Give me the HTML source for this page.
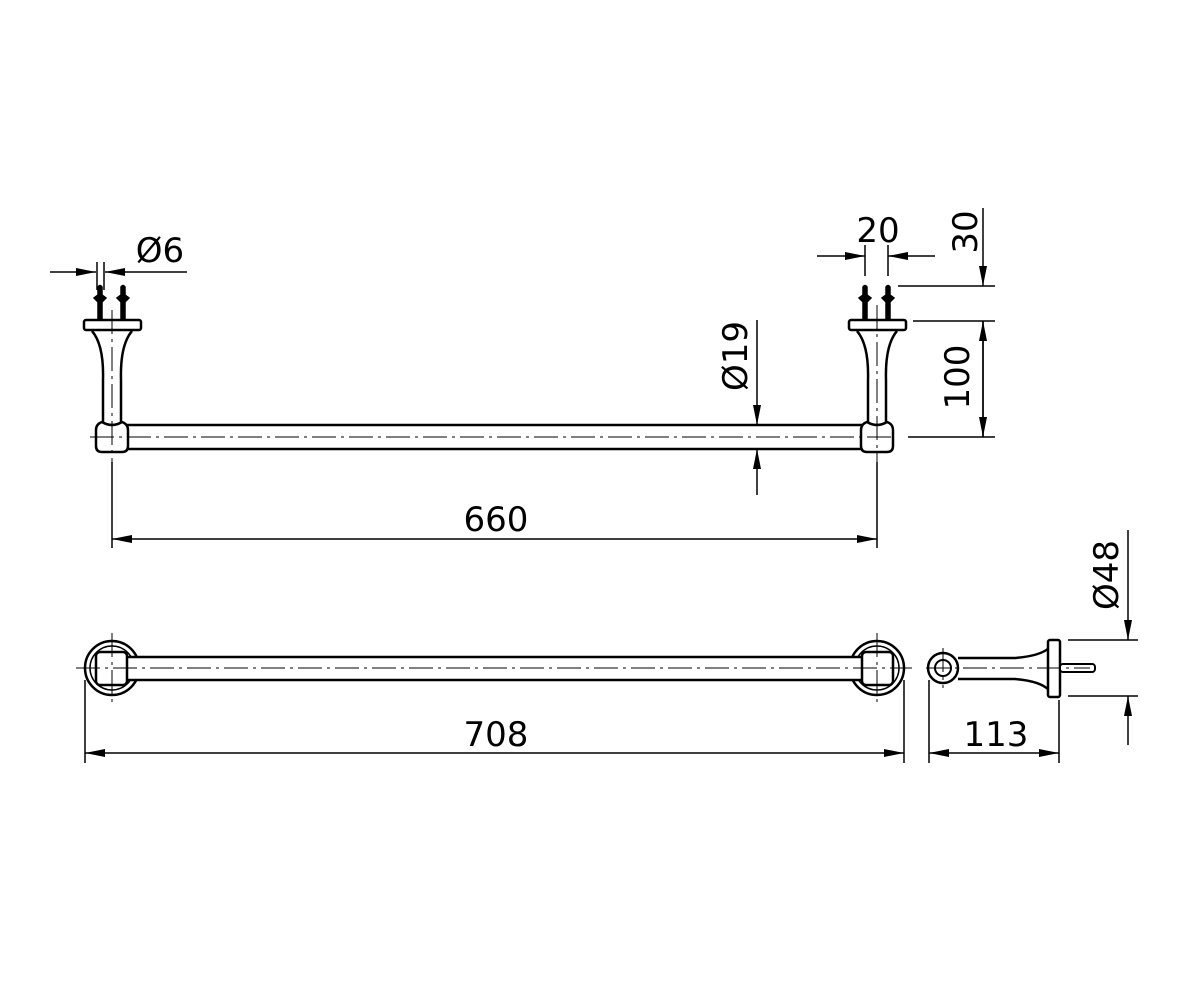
<!DOCTYPE html>
<html><head><style>body{margin:0;background:#fff}svg{display:block}</style></head><body>
<svg width="1200" height="996" viewBox="0 0 1200 996" xmlns="http://www.w3.org/2000/svg" font-family="'DejaVu Sans','Liberation Sans',sans-serif">
<defs>
<marker id="a" viewBox="0 0 20 8" refX="20" refY="4" markerWidth="20" markerHeight="8" markerUnits="userSpaceOnUse" orient="auto-start-reverse"><path d="M0,0 L20,4 L0,8z" fill="#000"/></marker>
</defs>
<g stroke="#000" fill="none" stroke-width="1.5">
<line x1="50" y1="272" x2="96" y2="272" marker-end="url(#a)"/>
<line x1="187" y1="272" x2="105" y2="272" marker-end="url(#a)"/>
<line x1="97" y1="262" x2="97" y2="290"/><line x1="104" y1="262" x2="104" y2="290"/>
<line x1="817" y1="256" x2="865" y2="256" marker-end="url(#a)"/>
<line x1="935" y1="256" x2="888" y2="256" marker-end="url(#a)"/>
<line x1="865" y1="245" x2="865" y2="276"/><line x1="888" y1="245" x2="888" y2="276"/>
<line x1="983" y1="208" x2="983" y2="286" marker-end="url(#a)"/>
<line x1="983" y1="437" x2="983" y2="321" marker-end="url(#a)"/>
<line x1="983" y1="321" x2="983" y2="437" marker-end="url(#a)"/>
<line x1="898" y1="286" x2="995" y2="286"/><line x1="913" y1="321" x2="995" y2="321"/><line x1="908" y1="437" x2="995" y2="437"/>
<line x1="757" y1="320" x2="757" y2="425" marker-end="url(#a)"/>
<line x1="757" y1="495" x2="757" y2="449" marker-end="url(#a)"/>
<line x1="112" y1="462" x2="112" y2="548"/><line x1="877" y1="462" x2="877" y2="548"/>
<line x1="112" y1="539" x2="877" y2="539" marker-start="url(#a)" marker-end="url(#a)"/>
<line x1="85" y1="680" x2="85" y2="763"/><line x1="904" y1="680" x2="904" y2="763"/>
<line x1="85" y1="753" x2="904" y2="753" marker-start="url(#a)" marker-end="url(#a)"/>
<line x1="929" y1="680" x2="929" y2="763"/><line x1="1059" y1="700" x2="1059" y2="763"/>
<line x1="929" y1="753" x2="1059" y2="753" marker-start="url(#a)" marker-end="url(#a)"/>
<line x1="1128" y1="530" x2="1128" y2="640" marker-end="url(#a)"/>
<line x1="1128" y1="745" x2="1128" y2="696" marker-end="url(#a)"/>
<line x1="1068" y1="640" x2="1138" y2="640"/><line x1="1068" y1="696" x2="1138" y2="696"/>
</g>
<g stroke="#000" stroke-width="2.5" fill="#fff">
<rect x="120" y="425" width="745" height="24"/>
<g id="post">
<path d="M92,331 Q104,345 103,380 L103,425 L121,425 L121,380 Q120,345 132,331"/>
<rect x="84" y="320" width="57" height="10" rx="2"/>
<path d="M102,422 Q112,428 122,422 Q128,424 128,430 L128,446 Q128,452 122,452 L102,452 Q96,452 96,446 L96,430 Q96,424 102,422z"/>
<path d="M98,320 v-18 l-4,-4 4,-3 v-8 q2,-3 4,0 v8 l4,3 -4,4 v18" fill="#000" stroke-width="1.5"/>
<path d="M121,320 v-18 l-4,-4 4,-3 v-8 q2,-3 4,0 v8 l4,3 -4,4 v18" fill="#000" stroke-width="1.5"/>
</g>
<use href="#post" transform="translate(765,0)"/>
<circle cx="112" cy="668" r="27"/><circle cx="112" cy="668" r="22" stroke-width="1.5"/>
<circle cx="877" cy="668" r="27"/><circle cx="877" cy="668" r="22" stroke-width="1.5"/>
<rect x="125" y="657" width="738" height="23"/>
<rect x="96" y="652" width="31" height="33" rx="4"/>
<rect x="862" y="652" width="31" height="33" rx="4"/>
<path d="M958,658 L1015,658 Q1040,656 1049,648 L1049,690 Q1040,681 1015,679 L958,679"/>
<rect x="1048" y="640" width="12" height="57" rx="2"/>
<rect x="1060" y="664" width="35" height="8" rx="3" stroke-width="2"/>
<circle cx="943" cy="668" r="15"/><circle cx="943" cy="668" r="8" stroke-width="2"/>
</g>
<g stroke="#000" stroke-width="1" stroke-dasharray="24,5,3,5" fill="none">
<line x1="90" y1="437" x2="895" y2="437"/>
<line x1="112" y1="310" x2="112" y2="470"/><line x1="877" y1="305" x2="877" y2="470"/>
<line x1="76" y1="668" x2="912" y2="668"/>
<line x1="112" y1="633" x2="112" y2="703"/><line x1="877" y1="633" x2="877" y2="703"/>
<line x1="926" y1="668" x2="1090" y2="668"/><line x1="943" y1="648" x2="943" y2="688"/>
</g>
<g font-size="34" fill="#000">
<text x="160" y="262" text-anchor="middle">Ø6</text>
<text x="878" y="242" text-anchor="middle">20</text>
<text x="496" y="531" text-anchor="middle">660</text>
<text x="496" y="746" text-anchor="middle">708</text>
<text x="996" y="746" text-anchor="middle">113</text>
<text transform="translate(977,232) rotate(-90)" text-anchor="middle">30</text>
<text transform="translate(969,377) rotate(-90)" text-anchor="middle">100</text>
<text transform="translate(747,356) rotate(-90)" text-anchor="middle">Ø19</text>
<text transform="translate(1118,575) rotate(-90)" text-anchor="middle">Ø48</text>
</g>
</svg>
</body></html>
